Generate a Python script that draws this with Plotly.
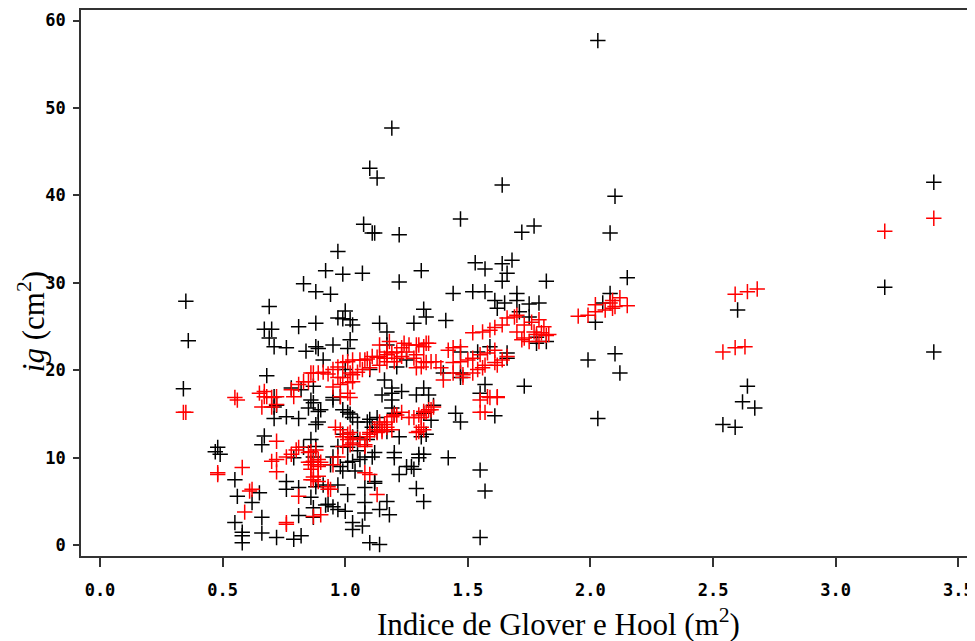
import plotly.graph_objects as go

# Black series (observed)
black_x = [2.03,1.19,1.10,1.13,1.64,3.40,2.10,1.47,1.075,1.11,1.12,1.22,1.72,1.77,2.08,0.97,1.53,1.57,1.64,1.68,
           1.66,1.64,0.92,0.99,1.07,1.31,1.82,2.15,1.22,0.83,3.20,0.88,0.94,1.44,1.52,1.57,1.61,1.65,1.62,1.70,
           1.70,1.75,1.79,1.71,1.75,2.08,2.05,0.35,0.69,1.00,0.97,0.99,1.02,1.03,1.32,1.33,1.41,1.14,1.17,0.88,
           0.81,1.28,2.60,2.02,0.67,0.70,0.69,0.71,0.76,0.36,1.02,0.95,0.88,0.89,0.84,1.01,1.17,1.78,1.82,1.78,
           0.91,1.10,1.00,1.21,1.40,1.47,1.47,1.47,1.54,1.59,1.66,1.66,1.99,2.10,2.12,3.40,1.25,0.68,0.78,0.87,
           0.82,1.15,1.16,1.57,1.55,1.73,2.64,0.34,0.71,0.72,0.71,0.86,0.87,1.19,1.23,1.29,1.34,1.32,1.19,1.19,
           1.19,0.98,1.36,0.95,0.90,0.99,1.01,1.02,1.03,1.05,1.20,1.35,1.32,1.45,1.47,1.61,1.22,1.33,1.31,1.20,
           1.20,1.30,1.30,1.32,1.42,1.25,1.27,1.28,1.22,1.55,1.57,1.29,1.32,1.55,2.03,2.54,2.59,2.62,2.67,0.48,
           0.47,0.49,0.55,0.56,0.62,0.65,0.55,0.58,0.58,0.58,0.66,0.66,0.72,0.79,0.82,0.81,0.76,0.76,0.81,0.86,
           0.67,0.66,0.87,0.92,0.87,0.71,0.76,0.81,0.89,0.89,0.88,0.86,0.88,0.79,0.87,1.09,1.10,1.13,0.97,1.01,
           0.95,0.94,0.98,1.01,1.03,1.04,0.99,0.88,0.91,0.97,0.93,0.97,1.00,0.95,1.01,1.08,1.08,1.03,1.03,1.07,
           1.10,1.14,1.12,1.12,1.08,1.14,0.83,1.03,1.09,1.05,1.08,1.06,1.11,1.12,1.17,1.18,0.85,0.95,0.99,1.05,
           1.11,1.13,1.17]
black_y = [57.7,47.7,43.1,42.0,41.2,41.5,39.9,37.3,36.7,35.7,35.7,35.5,35.8,36.5,35.7,33.6,32.3,31.6,32.2,32.6,
           31.1,30.2,31.4,31.0,31.1,31.4,30.2,30.6,30.1,29.9,29.5,29.0,28.7,28.8,29.0,29.0,28.0,27.7,27.1,28.8,
           28.0,27.6,27.7,26.7,26.1,28.8,27.7,27.9,27.3,26.8,26.0,25.9,25.8,25.2,27.0,26.1,25.7,25.4,24.4,25.4,
           25.0,25.4,26.9,25.5,24.7,24.7,23.7,22.7,22.6,23.4,23.5,22.9,22.7,22.5,22.2,22.5,22.9,23.1,23.3,23.8,
           21.2,20.1,20.1,20.4,19.7,19.7,19.2,22.1,22.1,22.7,22.0,21.4,21.2,21.9,19.7,22.1,21.2,19.4,18.0,18.2,
           17.8,17.2,18.9,18.4,17.4,18.2,18.2,17.9,17.0,16.0,15.8,16.6,16.3,17.4,17.6,17.2,17.2,18.0,18.0,16.6,
           15.7,17.0,16.0,16.9,15.5,15.5,15.2,15.0,14.6,14.1,15.1,14.3,15.1,15.1,14.1,14.8,12.4,12.7,12.4,10.6,
           10.0,10.4,10.0,10.4,10.0,9.0,9.0,8.7,8.1,8.6,6.2,6.5,5.0,0.9,14.5,13.8,13.5,16.4,15.7,11.2,
           10.7,10.4,7.5,5.6,4.9,6.0,2.6,1.5,1.1,0.3,3.2,1.4,0.9,0.7,1.1,3.4,7.3,6.4,6.6,5.5,
           12.5,11.5,4.3,4.6,3.2,14.5,14.7,14.5,15.3,14.1,13.8,12.1,11.3,10.0,10.1,14.1,14.4,14.6,11.3,11.2,
           10.1,9.2,9.0,9.5,9.6,8.5,8.5,6.7,6.9,6.9,4.7,4.1,3.9,4.4,5.8,4.9,3.7,2.6,1.8,2.2,
           0.3,0.1,7.3,7.1,6.6,4.1,11.2,12.4,12.1,10.8,10.1,9.8,10.1,10.6,5.0,3.5,15.7,16.6,12.7,12.3,
           13.5,13.0,13.0]

# Red series (fitted)
red_x = [3.40,3.20,2.59,2.64,2.68,2.54,2.59,2.63,
         1.95,1.99,2.02,2.02,2.06,2.08,2.09,2.10,2.12,2.15,2.09,
         1.73,1.76,1.79,1.81,1.77,1.78,1.82,1.73,1.52,1.56,1.59,1.61,1.64,1.66,1.69,1.70,1.75,1.72,1.79,1.83,1.80,1.70,
         1.44,1.47,1.50,1.52,1.55,1.58,1.61,1.48,1.54,1.57,1.61,1.64,1.66,1.40,1.42,1.44,1.47,
         1.29,1.31,1.33,1.35,1.37,1.39,1.44,1.48,1.52,1.56,1.62,1.55,1.59,1.62,1.55,1.57,1.28,1.32,
         0.83,0.87,0.91,0.95,0.97,0.99,1.01,1.03,1.06,1.09,1.11,1.14,1.17,1.19,1.21,1.23,1.26,1.29,1.32,1.34,
         0.95,0.98,1.01,1.03,0.99,1.02,1.05,1.07,1.10,1.14,1.17,1.20,1.23,1.21,
         0.93,1.08,1.13,1.03,0.97,1.01,0.98,1.02,0.78,0.81,0.85,0.86,0.89,
         1.14,1.18,1.24,1.30,1.33,1.17,1.25,1.29,1.16,
         0.34,0.35,0.55,0.56,0.48,0.48,0.58,0.62,0.59,
         0.65,0.67,0.67,0.68,0.70,0.72,0.66,0.70,0.72,0.79,
         0.72,0.70,0.72,0.72,0.76,0.78,0.80,0.81,0.76,0.76,0.81,
         0.86,0.88,0.89,0.90,0.86,0.87,0.89,0.93,0.87,0.90,0.86,0.89,0.87,0.61,
         0.85,0.87,0.89,0.86,0.85,0.86,0.89,0.93,0.94,0.95,0.97,0.99,1.01,1.02,0.98,0.96,0.99,1.02,1.03,1.06,
         1.08,1.09,1.10,1.12,1.14,1.17,1.21,1.23,1.26,1.28,1.30,1.32,1.34,1.36,1.30,1.32,1.13,1.15,1.08,1.10,1.13,
         1.01,1.03,1.08,1.10,1.16,1.20,1.19,1.14,1.17,1.15,1.19,1.31,1.33,1.35,1.31,1.29,1.58,1.62]
red_y = [37.4,35.9,28.7,29.0,29.3,22.1,22.6,22.7,
         26.2,26.3,26.7,27.5,26.9,27.7,27.1,27.3,28.3,27.4,28.0,
         25.2,25.5,25.8,25.0,24.4,24.1,24.0,23.7,24.3,24.4,24.6,24.9,25.2,26.0,26.1,24.4,23.3,23.5,23.3,24.1,24.3,26.3,
         20.9,21.0,21.2,21.4,21.8,22.0,22.3,19.2,20.1,20.6,20.9,21.2,21.6,18.9,22.3,22.6,22.7,
         20.3,20.4,20.9,21.0,21.0,20.3,19.7,19.5,19.7,20.3,20.6,16.6,16.9,16.9,15.2,15.2,21.4,21.0,
         18.7,19.7,19.8,20.1,20.4,20.9,21.0,21.2,21.2,21.3,21.6,21.6,21.8,22.0,22.1,22.6,22.9,22.9,22.7,23.1,
         18.1,18.4,18.6,18.7,19.2,19.7,19.8,20.1,20.3,20.6,21.0,21.0,21.6,21.4,
         19.6,21.2,21.5,19.5,19.2,17.4,17.0,16.9,17.8,18.4,18.7,19.7,19.7,
         22.9,23.3,23.1,22.9,23.1,22.1,22.1,21.8,21.4,
         15.2,15.2,16.9,16.6,8.1,8.3,8.9,6.4,3.8,
         17.4,17.0,17.6,17.0,16.9,17.0,15.8,15.8,16.1,17.0,
         11.9,9.6,9.8,8.4,10.1,10.4,10.9,11.2,2.4,2.6,5.6,
         10.7,10.9,9.8,9.5,9.5,7.8,7.9,6.4,3.3,3.5,9.2,9.2,7.5,6.2,
         9.5,9.6,9.0,8.7,10.6,7.5,7.3,6.7,6.4,9.2,10.1,11.3,12.1,12.9,13.2,13.5,12.4,11.5,11.7,12.1,
         11.3,12.4,12.9,13.2,13.8,14.1,14.9,15.2,14.6,14.6,14.9,15.3,15.5,15.8,13.0,13.2,12.9,13.2,8.3,8.1,5.8,
         12.7,12.3,11.5,12.7,13.8,14.9,14.7,14.1,13.5,13.0,13.2,14.6,15.2,15.5,13.5,12.9,17.0,17.0]

x_ticks = [0.0, 0.5, 1.0, 1.5, 2.0, 2.5, 3.0, 3.5]
y_ticks = [0, 10, 20, 30, 40, 50, 60]

fig = go.Figure()
fig.add_trace(go.Scatter(x=black_x, y=black_y, mode="markers",
                         marker=dict(symbol="cross-thin", size=11, line=dict(color="black", width=1.5), color="black"),
                         showlegend=False))
fig.add_trace(go.Scatter(x=red_x, y=red_y, mode="markers",
                         marker=dict(symbol="cross-thin", size=11, line=dict(color="#ff0000", width=1.5), color="#ff0000"),
                         showlegend=False))

tickfont = dict(family="DejaVu Sans Mono, monospace", size=17, color="black", weight="bold")
fig.update_xaxes(range=[-0.0775, 3.568], tickvals=x_ticks, ticktext=[f"{v:.1f}" for v in x_ticks],
                 showline=True, linecolor="#333333", linewidth=1.5, mirror=True,
                 ticks="outside", ticklen=9, tickwidth=1.5, tickcolor="#333333",
                 showgrid=False, zeroline=False, tickfont=tickfont, ticklabelstandoff=9)
fig.update_yaxes(range=[-1.22, 61.2], tickvals=y_ticks, ticktext=[str(v) for v in y_ticks],
                 showline=True, linecolor="#333333", linewidth=1.5, mirror=False,
                 ticks="outside", ticklen=6, tickwidth=1.5, tickcolor="#333333",
                 showgrid=False, zeroline=False, tickfont=tickfont, ticklabelstandoff=4)

fig.add_annotation(text="Indice de Glover e Hool (m<sup>2</sup>)", xref="paper", yref="paper",
                   x=0.5336, y=-0.121, xanchor="center", yanchor="middle", showarrow=False,
                   font=dict(family="Liberation Serif", size=31, color="black"))
fig.add_annotation(text="<i>ig</i> (cm<sup>2</sup>)", xref="paper", yref="paper",
                   x=-0.056, y=0.43, xanchor="center", yanchor="middle", showarrow=False, textangle=-90,
                   font=dict(family="Liberation Serif", size=31, color="black"))

fig.update_layout(width=967, height=633, margin=dict(l=73, r=0, t=2, b=85),
                  paper_bgcolor="white", plot_bgcolor="white")
fig.write_html("out.html")
